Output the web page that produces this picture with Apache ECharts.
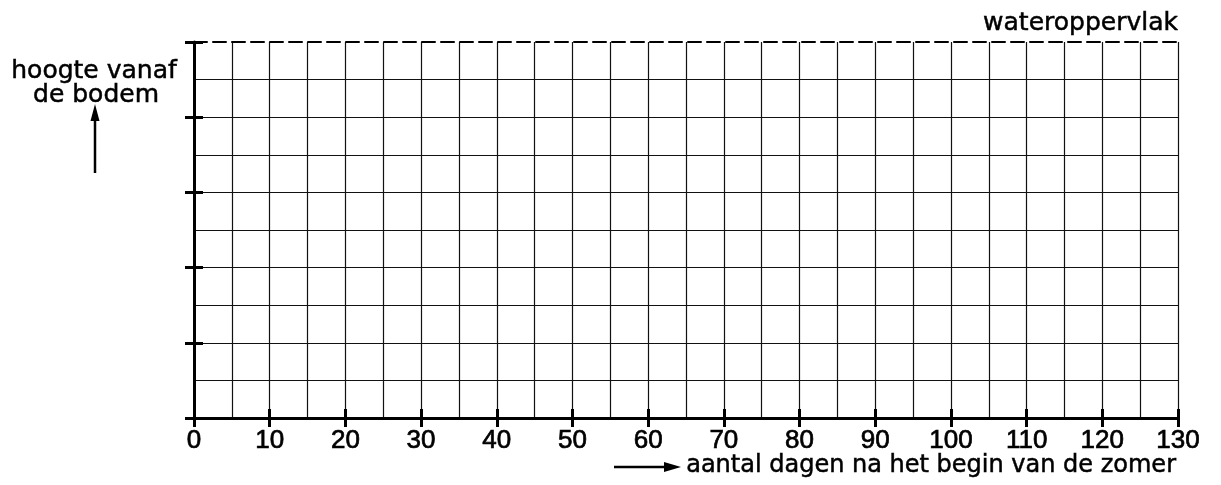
<!DOCTYPE html>
<html>
<head>
<meta charset="utf-8">
<script src="https://cdn.jsdelivr.net/npm/echarts@6/dist/echarts.min.js"></script>
<style>html,body{margin:0;padding:0;background:#fff;}#c{width:1221px;height:485px;}</style>
</head>
<body>
<div id="c"></div>
<script>
// ---- data ----
const xRange = [0, 130];          // days
const xGridStep = 5;
const xLabelStep = 10;
const yRange = [0, 10];           // height from bottom (unitless)
const yGridStep = 1;
const yTickStep = 2;
const yTitleLines = ['hoogte vanaf', 'de bodem'];
const xTitle = 'aantal dagen na het begin van de zomer';
const topLabel = 'wateroppervlak';

const chart = echarts.init(document.getElementById('c'));
const base = (extra) => Object.assign({
  type: 'value', min: xRange[0], max: xRange[1], gridIndex: 0,
  axisLine: {show: false}, axisTick: {show: false}, axisLabel: {show: false}, splitLine: {show: false}
}, extra);
const ybase = (extra) => Object.assign({
  type: 'value', min: yRange[0], max: yRange[1], gridIndex: 0,
  axisLine: {show: false}, axisTick: {show: false}, axisLabel: {show: false}, splitLine: {show: false}
}, extra);
const txtStyle = (text, x, y, align, size) => ({
  text: text, x: x, y: y, align: align, verticalAlign: 'middle',
  fill: '#000', font: (size || 25) + 'px "DejaVu Sans"', stroke: '#000', lineWidth: 0.5
});

const option = {
  backgroundColor: '#fff',
  animation: false,
  grid: {left: 194, right: 43, top: 42, bottom: 67, containLabel: false},
  xAxis: [
    base({position: 'bottom', interval: xGridStep,
      axisLine: {show: true, lineStyle: {color: '#000', width: 3}},
      splitLine: {show: true, showMinLine: false, lineStyle: {color: '#111', width: 1.2}}}),
    base({position: 'bottom', interval: xLabelStep,
      axisTick: {show: true, inside: false, length: 9, lineStyle: {color: '#000', width: 3}},
      axisLabel: {show: true, color: '#000', fontFamily: 'Liberation Sans', fontSize: 26, margin: 10,
        textBorderColor: '#000', textBorderWidth: 0.7}}),
    base({position: 'bottom', interval: xLabelStep,
      axisTick: {show: true, inside: true, length: 9, lineStyle: {color: '#000', width: 3}}}),
    base({position: 'top', interval: xGridStep,
      axisLine: {show: true, lineStyle: {color: '#000', width: 2, type: [13, 6]}}})
  ],
  yAxis: [
    ybase({position: 'left', interval: yGridStep,
      axisLine: {show: true, lineStyle: {color: '#000', width: 3}},
      splitLine: {show: true, showMinLine: false, showMaxLine: false, lineStyle: {color: '#111', width: 1.2}}}),
    ybase({position: 'left', interval: yTickStep,
      axisTick: {show: true, inside: false, length: 9, lineStyle: {color: '#000', width: 3}}}),
    ybase({position: 'left', interval: yTickStep,
      axisTick: {show: true, inside: true, length: 9, lineStyle: {color: '#000', width: 3}}})
  ],
  series: [{type: 'line', xAxisIndex: 0, yAxisIndex: 0, data: [], silent: true}],
  graphic: [
    {type: 'text', style: txtStyle(yTitleLines[0], 94, 71, 'center')},
    {type: 'text', style: txtStyle(yTitleLines[1], 96, 95, 'center')},
    {type: 'line', shape: {x1: 95, y1: 173, x2: 95, y2: 118}, style: {stroke: '#000', lineWidth: 2.5}},
    {type: 'polygon', shape: {points: [[95, 104], [90.5, 121], [99.5, 121]]}, style: {fill: '#000'}},
    {type: 'text', style: txtStyle(topLabel, 1178, 23, 'right')},
    {type: 'text', style: txtStyle(xTitle, 1176, 466, 'right', 24)},
    {type: 'line', shape: {x1: 614, y1: 467, x2: 666, y2: 467}, style: {stroke: '#000', lineWidth: 2.5}},
    {type: 'polygon', shape: {points: [[681, 467], [664, 462], [664, 472]]}, style: {fill: '#000'}}
  ]
};
chart.setOption(option);
</script>
</body>
</html>
